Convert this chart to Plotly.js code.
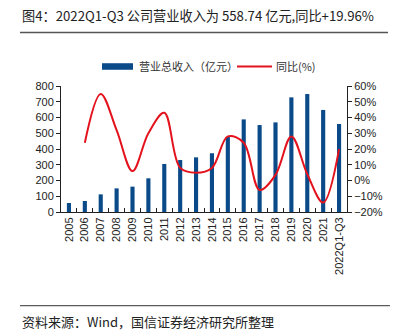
<!DOCTYPE html>
<html><head><meta charset="utf-8">
<script src="https://cdn.plot.ly/plotly-3.0.1.min.js"></script>
<style>html,body{margin:0;padding:0;background:#fff}</style>
</head><body><div id="chart" style="width:406px;height:333px"></div>
<script>
var categories = ['2005','2006','2007','2008','2009','2010','2011','2012','2013','2014','2015','2016','2017','2018','2019','2020','2021','2022Q1-Q3'];
var revenue = [57, 70, 112, 150, 161, 214, 305, 330, 347, 373, 476, 588, 552, 569, 728, 749, 648, 558.74];
var yoy = [null, 24, 55, 32, 6, 30, 43, 8, 5, 8, 28, 24, -6, 3.6, 28, 4, -14, 19.96];
var seriesNames = ['营业总收入（亿元）', '同比(%)'];
var titleText = '图4：2022Q1-Q3 公司营业收入为 558.74 亿元,同比+19.96%';
var sourceText = '资料来源：Wind，国信证券经济研究所整理';

var barColor = '#0b4a89', lineColor = '#e3121c';
var cjk = '"Noto Sans CJK SC", sans-serif';
var lat = '"Liberation Sans", Arial, sans-serif';

var traces = [
  {type:'bar', x:categories, y:revenue, name:seriesNames[0], marker:{color:barColor}, yaxis:'y', showlegend:false, hoverinfo:'skip'},
  {type:'scatter', mode:'lines', x:categories, y:yoy, name:seriesNames[1], line:{color:lineColor, width:2, shape:'spline', smoothing:1}, yaxis:'y2', showlegend:false, connectgaps:false, hoverinfo:'skip'}
];

var layout = {
  width:406, height:333,
  margin:{l:61, r:59, t:86, b:121},
  paper_bgcolor:'#fff', plot_bgcolor:'#fff',
  bargap:0.74,
  font:{family:lat, size:11, color:'#222'},
  xaxis:{type:'category', showline:true, linecolor:'#222', linewidth:1, ticks:'inside', ticklen:4, tickcolor:'#222', tickson:'boundaries', tickangle:-90, tickfont:{family:lat, size:11, color:'#222'}, showgrid:false, zeroline:false, fixedrange:true},
  yaxis:{range:[0,800], dtick:100, showline:true, linecolor:'#222', ticks:'outside', ticklen:4, tickcolor:'#222', showgrid:false, zeroline:false, tickfont:{family:lat, size:11, color:'#222'}},
  yaxis2:{range:[-20,60], dtick:10, ticksuffix:'%', overlaying:'y', side:'right', showline:true, linecolor:'#222', ticks:'outside', ticklen:4, tickcolor:'#222', showgrid:false, zeroline:false, tickfont:{family:lat, size:11, color:'#222'}},
  shapes:[
    {type:'line', xref:'paper', yref:'paper', x0:-0.1434, x1:1.1434, y0:1.4246, y1:1.4246, line:{color:'#555', width:1.5}},
    {type:'line', xref:'paper', yref:'paper', x0:-0.1434, x1:1.1503, y0:-0.7437, y1:-0.7437, line:{color:'#333', width:1}},
    {type:'rect', xref:'paper', yref:'paper', x0:0.1434, x1:0.2517, y0:1.1548-0.026, y1:1.1548+0.026, fillcolor:barColor, line:{width:0}},
    {type:'line', xref:'paper', yref:'paper', x0:0.6154, x1:0.7378, y0:1.1548, y1:1.1548, line:{color:lineColor, width:2}}
  ],
  annotations:[
    {text:titleText, xref:'paper', yref:'paper', x:-0.1434, y:1.556, xanchor:'left', yanchor:'middle', showarrow:false, font:{family:cjk, size:13.2, color:'#222'}},
    {text:seriesNames[0], xref:'paper', yref:'paper', x:0.2657, y:1.1548, xanchor:'left', yanchor:'middle', showarrow:false, font:{family:cjk, size:11, color:'#333'}},
    {text:seriesNames[1], xref:'paper', yref:'paper', x:0.7448, y:1.1548, xanchor:'left', yanchor:'middle', showarrow:false, font:{family:cjk, size:11, color:'#333'}},
    {text:sourceText, xref:'paper', yref:'paper', x:-0.1434, y:-0.873, xanchor:'left', yanchor:'middle', showarrow:false, font:{family:cjk, size:13, color:'#222'}}
  ]
};
Plotly.newPlot('chart', traces, layout, {displayModeBar:false, staticPlot:true});
</script></body></html>
